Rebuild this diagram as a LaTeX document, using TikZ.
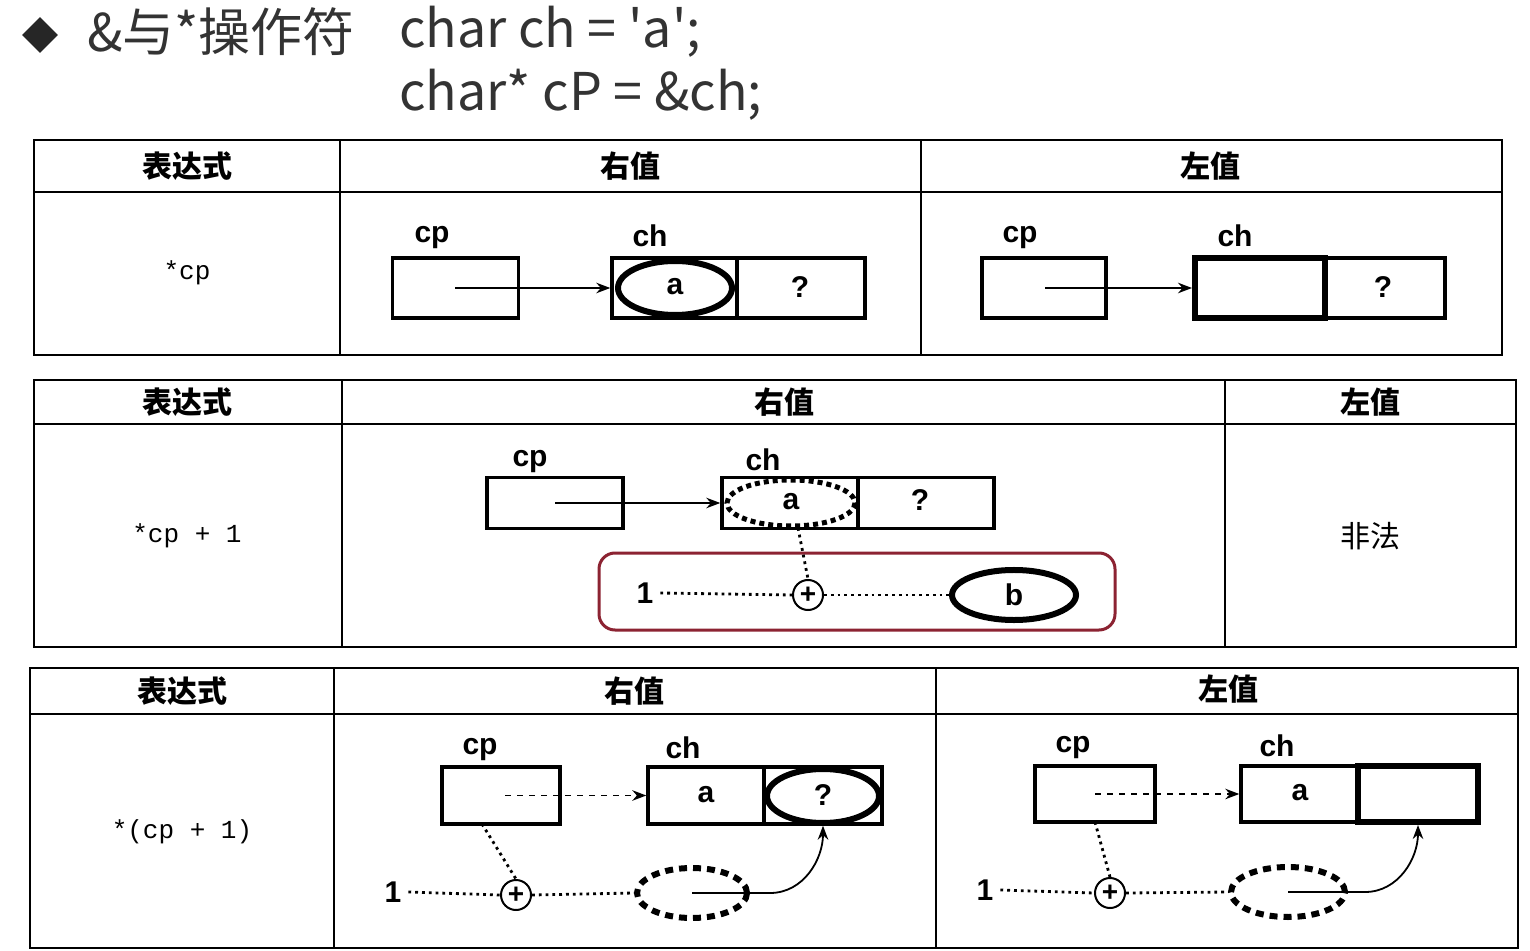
\documentclass[tikz,border=0pt]{standalone}
\usepackage{fontspec}
\setmainfont{Liberation Sans}
\setmonofont{Liberation Mono}
\newfontfamily\cjk{Noto Sans CJK SC}
\usetikzlibrary{arrows.meta,shapes.geometric}
\tikzset{
 cell/.style={draw,line width=1.7pt},
 hdr/.style={font=\cjk\bfseries\fontsize{15}{15}\selectfont},
 lbl/.style={font=\bfseries\fontsize{15}{15}\selectfont},
 expr/.style={font=\ttfamily\fontsize{13}{13}\selectfont},
 ptr/.style={line width=0.9pt,-{Stealth[length=7pt]}},
 dots/.style={line width=1.4pt,dotted},
 bigdash/.style={line width=3pt,dash pattern=on 4pt off 3pt},
 plusc/.style={draw,circle,line width=1pt,minimum size=15pt,inner sep=0pt,font=\bfseries\fontsize{14}{14}\selectfont},
 tbl/.style={line width=1.4pt}
}
\begin{document}
\begin{tikzpicture}[x=0.5pt,y=-0.5pt]
\useasboundingbox[fill=white] (0,0) rectangle (1530,951);
% title
\node[fill=black!85,diamond,minimum size=18pt,inner sep=0pt] (dia) at (40,35) {};
\node[anchor=west,text=black!80,font=\cjk\fontsize{26}{26}\selectfont] (t1) at (80,32) {\&与*操作符};
\node[anchor=west,text=black!80,font=\cjk\fontsize{26}{26}\selectfont] (t2) at (392,32) {char ch = 'a';};
\node[anchor=west,text=black!80,font=\cjk\fontsize{26}{26}\selectfont] (t3) at (392,95) {char* cP = \&ch;};
% ---- table 1
\draw[tbl] (34,140) rectangle (1502,355);
\draw[tbl] (34,192)--(1502,192) (340,140)--(340,355) (921,140)--(921,355);
\node[hdr] (h11) at (187,166) {表达式};
\node[hdr] (h12) at (630,166) {右值};
\node[hdr] (h13) at (1210,166) {左值};
\node[expr] (e1) at (187,273) {*cp};
% right
\node[lbl] (l1a) at (432,238) {cp};
\node[cell,minimum width=63pt,minimum height=30pt] (p1) at (455.5,288) {};
\node[cell,minimum width=62.5pt,minimum height=30pt] (c1) at (674.5,288) {};
\node[cell,minimum width=64pt,minimum height=30pt] (q1) at (801,288) {};
\node[lbl] (l1b) at (650,236) {ch};
\draw[line width=3pt] (675,288) ellipse [x radius=57,y radius=27];
\node[lbl] (a1) at (675,287) {a};
\node[lbl] (qq1) at (800,287) {?};
\coordinate (s1) at (455,288);
\draw[ptr] (s1) -- (c1.west);
% left
\node[lbl] (l1c) at (1020,238) {cp};
\node[cell,minimum width=62pt,minimum height=30pt] (p2) at (1044,288) {};
\node[draw,line width=3pt,minimum width=65pt,minimum height=30pt] (c2) at (1260,288) {};
\node[cell,minimum width=60pt,minimum height=30pt] (q2) at (1385,288) {};
\node[lbl] (l1d) at (1235,236) {ch};
\node[lbl] (qq2) at (1383,287) {?};
\coordinate (s2) at (1045,288);
\draw[ptr] (s2) -- (c2.west);
% ---- table 2
\draw[tbl] (34,380) rectangle (1516,647);
\draw[tbl] (34,424)--(1516,424) (342,380)--(342,647) (1225,380)--(1225,647);
\node[hdr] (h21) at (187,402) {表达式};
\node[hdr] (h22) at (784,402) {右值};
\node[hdr] (h23) at (1370,402) {左值};
\node[expr] (e2) at (187,536) {*cp + 1};
\node[font=\cjk\fontsize{15}{15}\selectfont] (ill) at (1370,536) {非法};
\draw[draw={rgb,255:red,140;green,35;blue,50},line width=1.5pt,rounded corners=8pt] (599,553) rectangle (1115,630);
\node[lbl] (l2a) at (530,462) {cp};
\node[cell,minimum width=68pt,minimum height=25.5pt] (p3) at (555,503) {};
\node[cell,minimum width=68pt,minimum height=25.5pt] (c3) at (790,503) {};
\node[cell,minimum width=68pt,minimum height=25.5pt] (q3) at (926,503) {};
\node[lbl] (l2b) at (763,460) {ch};
\draw[line width=2.5pt,dotted] (791,503) ellipse [x radius=64,y radius=23];
\node[lbl] (a3) at (791,502) {a};
\node[lbl] (qq3) at (920,500) {?};
\coordinate (s3) at (555,503);
\draw[ptr] (s3) -- (c3.west);
\node[plusc] (pl1) at (808,595) {+};
\node[lbl] (one1) at (645,593) {1};
\node[draw,ellipse,line width=3pt,minimum width=62pt,minimum height=22pt,lbl] (b1) at (1014,595) {b};
\draw[dots] (798,528) -- (pl1.north);
\draw[dots] (one1.east) -- (pl1.west);
\draw[dots] (pl1.east) -- (b1.west);
% ---- table 3
\draw[tbl] (30,668) rectangle (1518,948);
\draw[tbl] (30,714)--(1518,714) (334,668)--(334,948) (936,668)--(936,948);
\node[hdr] (h31) at (182,691) {表达式};
\node[hdr] (h32) at (634,691) {右值};
\node[hdr] (h33) at (1228,689) {左值};
\node[expr] (e3) at (182,832) {*(cp + 1)};
% right
\node[lbl] (l3a) at (480,750) {cp};
\node[cell,minimum width=59pt,minimum height=28.5pt] (p4) at (501,795.5) {};
\node[cell,minimum width=58pt,minimum height=28.5pt] (c4) at (706,795.5) {};
\node[cell,minimum width=59pt,minimum height=28.5pt] (q4) at (823,795.5) {};
\node[lbl] (l3b) at (683,748) {ch};
\draw[line width=3pt] (823,796) ellipse [x radius=56,y radius=27];
\node[lbl] (a4) at (706,795) {a};
\node[lbl] (qq4) at (823,795) {?};
\coordinate (s4) at (505,795.5);
\draw[ptr,dashed] (s4) -- (c4.west);
\node[plusc] (pl2) at (516,895) {+};
\node[lbl] (one2) at (393,892) {1};
\node[draw,ellipse,bigdash,minimum width=55pt,minimum height=25pt] (d1) at (692,893) {};
\draw[dots] (482,824) -- (pl2.north);
\draw[dots] (one2.east) -- (pl2.west);
\draw[dots] (pl2.east) -- (d1.west);
\coordinate (m1) at (692,893);
\draw[ptr] (m1) -- (770,893) to[out=0,in=-90] (q4.south);
% left
\node[lbl] (l3c) at (1073,748) {cp};
\node[cell,minimum width=60pt,minimum height=28pt] (p5) at (1095,794) {};
\node[cell,minimum width=58.5pt,minimum height=28pt] (c5) at (1299.5,794) {};
\node[draw,line width=3pt,minimum width=60pt,minimum height=28pt] (q5) at (1418,794) {};
\node[lbl] (l3d) at (1277,746) {ch};
\node[lbl] (a5) at (1300,793) {a};
\coordinate (s5) at (1095,794);
\draw[ptr,dashed] (s5) -- (c5.west);
\node[plusc] (pl3) at (1110,893) {+};
\node[lbl] (one3) at (985,890) {1};
\node[draw,ellipse,bigdash,minimum width=57pt,minimum height=25pt] (d2) at (1288,892) {};
\draw[dots] (1095,822) -- (pl3.north);
\draw[dots] (one3.east) -- (pl3.west);
\draw[dots] (pl3.east) -- (d2.west);
\coordinate (m2) at (1288,892);
\draw[ptr] (m2) -- (1365,892) to[out=0,in=-90] (q5.south);
\end{tikzpicture}
\end{document}
